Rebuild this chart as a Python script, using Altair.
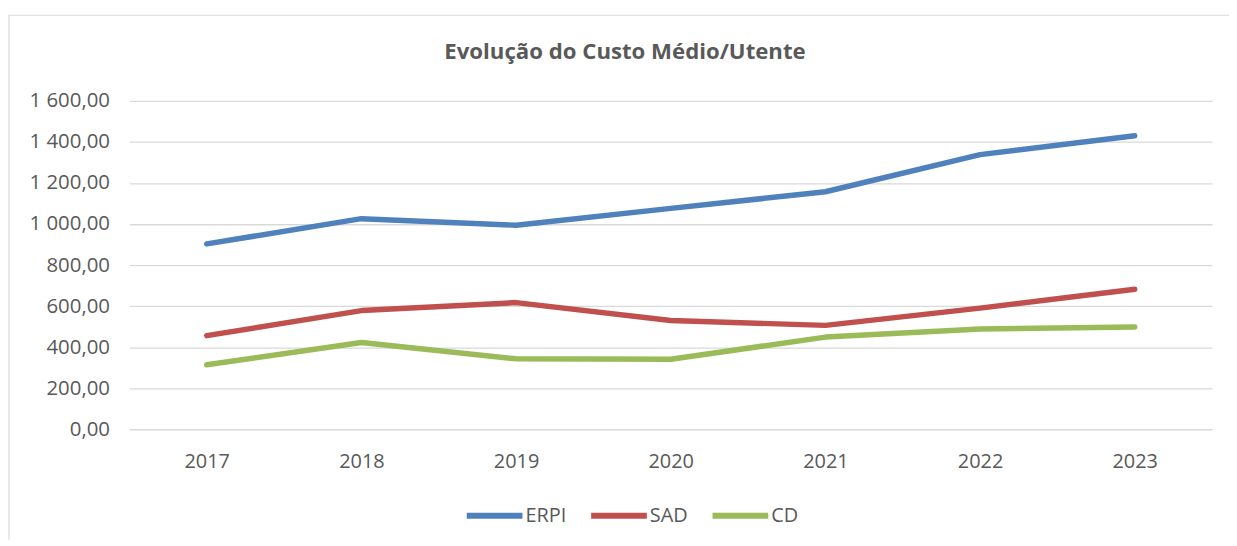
import altair as alt
import pandas as pd

title_text = "Evolução do Custo Médio/Utente"
years = ["2017", "2018", "2019", "2020", "2021", "2022", "2023"]
erpi = [903, 1026, 994, 1076, 1157, 1338, 1430]
sad = [456, 578, 617, 530, 506, 590, 682]
cd = [314, 423, 343, 341, 449, 488, 498]
series = ["ERPI", "SAD", "CD"]
colors = ["#4F81BD", "#C0504D", "#9BBB59"]

rows = []
for name, vals in zip(series, [erpi, sad, cd]):
    for y, v in zip(years, vals):
        rows.append({"Ano": y, "Serie": name, "Valor": v})
df = pd.DataFrame(rows)

FONT = "Open Sans"
GREY = "#595959"

lines = alt.Chart(df).mark_line(strokeWidth=5.5, strokeCap="round", strokeJoin="round").encode(
    x=alt.X("Ano:O", sort=years, title=None,
            scale=alt.Scale(type="point", padding=0.5),
            axis=alt.Axis(labelAngle=0, ticks=False, domain=False, grid=False,
                          labelPadding=22, labelFontSize=20, labelColor=GREY, labelFont=FONT)),
    y=alt.Y("Valor:Q", title=None,
            scale=alt.Scale(domain=[0, 1600], nice=False),
            axis=alt.Axis(values=[0, 200, 400, 600, 800, 1000, 1200, 1400, 1600],
                          labelExpr="replace(replace(format(datum.value, ',.2f'), ',', ' '), '.', ',')",
                          ticks=False, domain=False, grid=True, gridColor="#D9D9D9", gridWidth=1.3,
                          labelPadding=20, labelFontSize=20.5, labelColor=GREY, labelFont=FONT)),
    color=alt.Color("Serie:N", sort=series,
                    scale=alt.Scale(domain=series, range=colors),
                    legend=alt.Legend(title=None, orient="none", direction="horizontal",
                                      legendX=336, legendY=386,
                                      symbolType="stroke", symbolSize=3136, symbolStrokeWidth=6,
                                      labelFontSize=20, labelColor=GREY, labelFont=FONT,
                                      labelOffset=0, columnPadding=12)),
)

one = pd.DataFrame({"t": [title_text]})

frame = alt.Chart(one).mark_rect(filled=False, stroke="#D9D9D9", strokeWidth=1.2).encode(
    x=alt.value(-121), x2=alt.value(1300), y=alt.value(-86), y2=alt.value(700)
)

title = alt.Chart(one).mark_text(font=FONT, fontSize=22.3, fontWeight="bold", color=GREY,
                                 align="center", baseline="alphabetic").encode(
    x=alt.value(498), y=alt.value(-42), text="t:N"
)

chart = alt.layer(frame, title, lines).properties(
    width=1088,
    height=330,
    autosize=alt.AutoSizeParams(type="none"),
    padding={"left": 122, "top": 92, "right": 17, "bottom": 110},
).configure_view(stroke=None)

chart.save("out.html", embed_options={"renderer": "svg", "actions": False})
